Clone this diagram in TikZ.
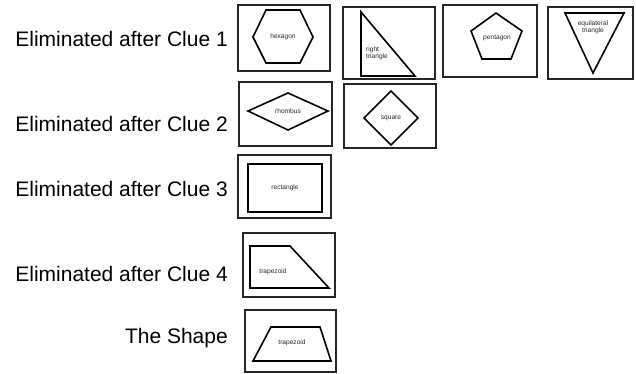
\documentclass[tikz,border=0pt]{standalone}
\usepackage{fontspec}
\setmainfont{Liberation Sans}
\begin{document}
\begin{tikzpicture}[x=1pt,y=-1pt,
  frame/.style={draw=black!85,line width=1.2pt,inner sep=0pt},
  shapeline/.style={draw=black,line width=1.6pt,line join=miter},
  tag/.style={font=\fontsize{6.6}{7.2}\selectfont,inner sep=0pt,align=center,text=black!85},
  cluelabel/.style={font=\fontsize{21}{24}\selectfont,anchor=east,inner sep=0pt}]
\useasboundingbox (0,0) rectangle (636,373);
% labels
\node[cluelabel] (l1) at (228,39) {Eliminated after Clue 1};
\node[cluelabel] (l2) at (228,124) {Eliminated after Clue 2};
\node[cluelabel] (l3) at (228,189) {Eliminated after Clue 3};
\node[cluelabel] (l4) at (228,274) {Eliminated after Clue 4};
\node[cluelabel] (l5) at (228,338) {The Shape};
% frames
\node[frame,minimum width=92pt,minimum height=66pt] (b1) at (284,38) {};
\node[frame,minimum width=92pt,minimum height=72pt] (b2) at (389,43) {};
\node[frame,minimum width=94pt,minimum height=72pt] (b3) at (490,41) {};
\node[frame,minimum width=85pt,minimum height=72pt] (b4) at (590.5,43) {};
\node[frame,minimum width=93pt,minimum height=64pt] (b5) at (285.5,114) {};
\node[frame,minimum width=92pt,minimum height=64pt] (b6) at (390,116) {};
\node[frame,minimum width=93pt,minimum height=63pt] (b7) at (284.5,186.5) {};
\node[frame,minimum width=92pt,minimum height=64pt] (b8) at (289,265) {};
\node[frame,minimum width=91pt,minimum height=62pt] (b9) at (290.5,341) {};
% hexagon
\draw[shapeline] (253,37) -- (266,10) -- (300,10) -- (313,37) -- (300,63) -- (266,63) -- cycle;
\node[tag] (t1) at (283,37) {hexagon};
% right triangle
\draw[shapeline] (361,12) -- (415,76) -- (361,76) -- cycle;
\node[tag,anchor=west,align=left] (t2) at (366,53) {right\\triangle};
% pentagon
\draw[shapeline] (496,13) -- (522,31) -- (511,59) -- (482,59) -- (471,31) -- cycle;
\node[tag] (t3) at (497,38) {pentagon};
% equilateral triangle
\draw[shapeline] (565,13) -- (624,13) -- (593,73) -- cycle;
\node[tag] (t4) at (593,27) {equilateral\\triangle};
% rhombus
\draw[shapeline] (248,111) -- (288,93) -- (328,111) -- (288,130) -- cycle;
\node[tag] (t5) at (288,111) {rhombus};
% square
\draw[shapeline] (364,118) -- (391,91) -- (418,118) -- (391,145) -- cycle;
\node[tag] (t6) at (391,118) {square};
% rectangle
\draw[shapeline] (248,164) rectangle (322,212);
\node[tag] (t7) at (285,188) {rectangle};
% trapezoid 1
\draw[shapeline] (250,246) -- (290,246) -- (329,288) -- (250,288) -- cycle;
\node[tag] (t8) at (273,272) {trapezoid};
% the shape
\draw[shapeline] (271,327) -- (320,327) -- (331,361) -- (253,361) -- cycle;
\node[tag] (t9) at (292,343) {trapezoid};
\end{tikzpicture}
\end{document}
